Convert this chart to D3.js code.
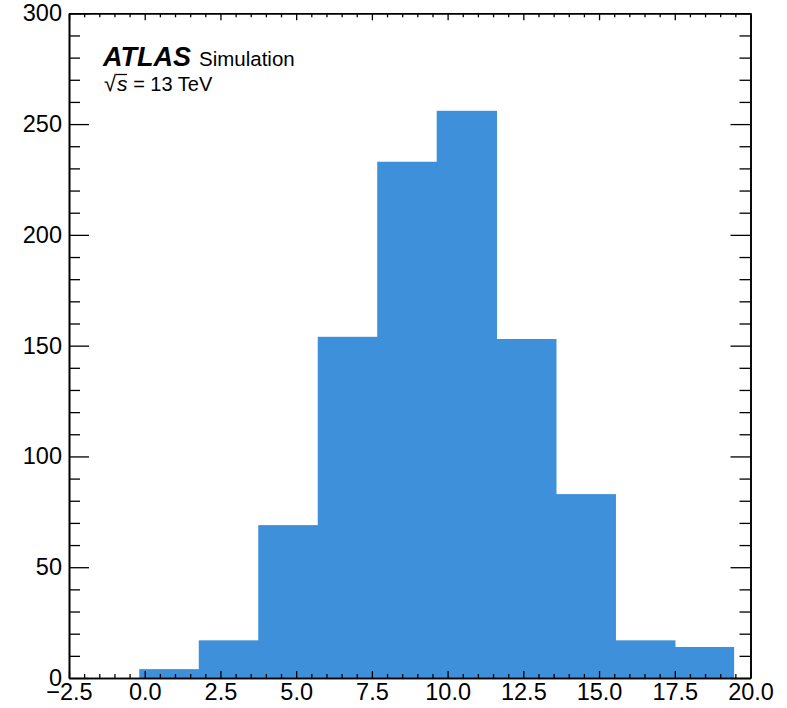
<!DOCTYPE html>
<html>
<head>
<meta charset="utf-8">
<script src="https://cdn.jsdelivr.net/npm/d3@7"></script>
<style>
  html, body { margin: 0; padding: 0; background: #fff; }
  svg { display: block; font-family: "Liberation Sans", Arial, sans-serif; }
</style>
</head>
<body>
<svg id="chart" width="787" height="708"></svg>
<script>
// ---- data ----
const binEdges = [-0.18, 1.784, 3.748, 5.712, 7.676, 9.64, 11.604, 13.568, 15.532, 17.496, 19.46];
const counts = [4, 17, 69, 154, 233, 256, 153, 83, 17, 14];
const xTickValues = [-2.5, 0, 2.5, 5, 7.5, 10, 12.5, 15, 17.5, 20];
const yTickValues = [0, 50, 100, 150, 200, 250, 300];
const xDomain = [-2.5, 20];
const yDomain = [0, 300];

// ---- layout ----
const W = 787, H = 708;
const margin = { left: 69, right: 36.5, top: 13.3, bottom: 30 };
const iw = W - margin.left - margin.right;
const ih = H - margin.top - margin.bottom;

const svg = d3.select("#chart");
const g = svg.append("g").attr("transform", `translate(${margin.left},${margin.top})`);

const x = d3.scaleLinear().domain(xDomain).range([0, iw]);
const y = d3.scaleLinear().domain(yDomain).range([ih, 0]);

const bins = counts.map((c, i) => ({ x0: binEdges[i], x1: binEdges[i + 1], c }));

g.selectAll("rect.bar").data(bins).join("rect")
  .attr("class", "bar")
  .attr("x", d => x(d.x0))
  .attr("width", (d, i) => x(d.x1) - x(d.x0) + (i < bins.length - 1 ? 0.8 : 0))
  .attr("y", d => y(d.c))
  .attr("height", d => y(0) - y(d.c))
  .attr("fill", "#3f90da");

// minor tick values
const xMinor = d3.range(-2.5, 20.001, 0.5).filter(v => !xTickValues.some(t => Math.abs(t - v) < 1e-6));
const yMinor = d3.range(0, 300.001, 10).filter(v => !yTickValues.some(t => Math.abs(t - v) < 1e-6));

const fmtX = d => (d < 0 ? "\u2212" : "") + Math.abs(d).toFixed(1);
const fmtY = d => String(d);

function styleAxis(sel, fontSize) {
  sel.selectAll("path.domain").attr("stroke", "#000").attr("stroke-width", 1.6);
  sel.selectAll(".tick line").attr("stroke", "#000").attr("stroke-width", 1.3);
  sel.selectAll(".tick text").attr("fill", "#000").style("font-size", fontSize + "px");
}

// bottom major
g.append("g").attr("transform", `translate(0,${ih})`)
  .call(d3.axisBottom(x).tickValues(xTickValues).tickFormat(fmtX).tickSize(-7).tickSizeOuter(0).tickPadding(5))
  .call(s => styleAxis(s, 23.5));
// bottom minor
g.append("g").attr("transform", `translate(0,${ih})`)
  .call(d3.axisBottom(x).tickValues(xMinor).tickFormat("").tickSize(-4).tickSizeOuter(0))
  .call(s => styleAxis(s, 23.5));
// top major/minor
g.append("g")
  .call(d3.axisTop(x).tickValues(xTickValues).tickFormat("").tickSize(-7).tickSizeOuter(0))
  .call(s => styleAxis(s, 23.5));
g.append("g")
  .call(d3.axisTop(x).tickValues(xMinor).tickFormat("").tickSize(-4).tickSizeOuter(0))
  .call(s => styleAxis(s, 23.5));
// left
g.append("g")
  .call(d3.axisLeft(y).tickValues(yTickValues).tickFormat(fmtY).tickSize(-20).tickSizeOuter(0).tickPadding(7))
  .call(s => styleAxis(s, 23.5));
g.append("g")
  .call(d3.axisLeft(y).tickValues(yMinor).tickFormat("").tickSize(-11).tickSizeOuter(0))
  .call(s => styleAxis(s, 23.5));
// right
g.append("g").attr("transform", `translate(${iw},0)`)
  .call(d3.axisRight(y).tickValues(yTickValues).tickFormat("").tickSize(-20).tickSizeOuter(0))
  .call(s => styleAxis(s, 23.5));
g.append("g").attr("transform", `translate(${iw},0)`)
  .call(d3.axisRight(y).tickValues(yMinor).tickFormat("").tickSize(-11).tickSizeOuter(0))
  .call(s => styleAxis(s, 23.5));

// ---- ATLAS label ----
const lab = svg.append("text").attr("x", 103).attr("y", 65.5).attr("fill", "#000");
lab.append("tspan").text("ATLAS")
  .style("font-size", "27px").style("font-weight", "bold").style("font-style", "italic");
lab.append("tspan").text("Simulation").attr("x", 199)
  .style("font-size", "20.5px");

const en = svg.append("text").attr("x", 104).attr("y", 91).attr("fill", "#000").style("font-size", "20px");
en.append("tspan").text("\u221A").style("font-size", "22px");
en.append("tspan").text("s").attr("dx", 1).style("font-style", "italic").style("font-size", "21px");
en.append("tspan").text(" = 13 TeV");
svg.append("line").attr("x1", 116).attr("x2", 127).attr("y1", 74.5).attr("y2", 74.5)
  .attr("stroke", "#000").attr("stroke-width", 1.3);
</script>
</body>
</html>
